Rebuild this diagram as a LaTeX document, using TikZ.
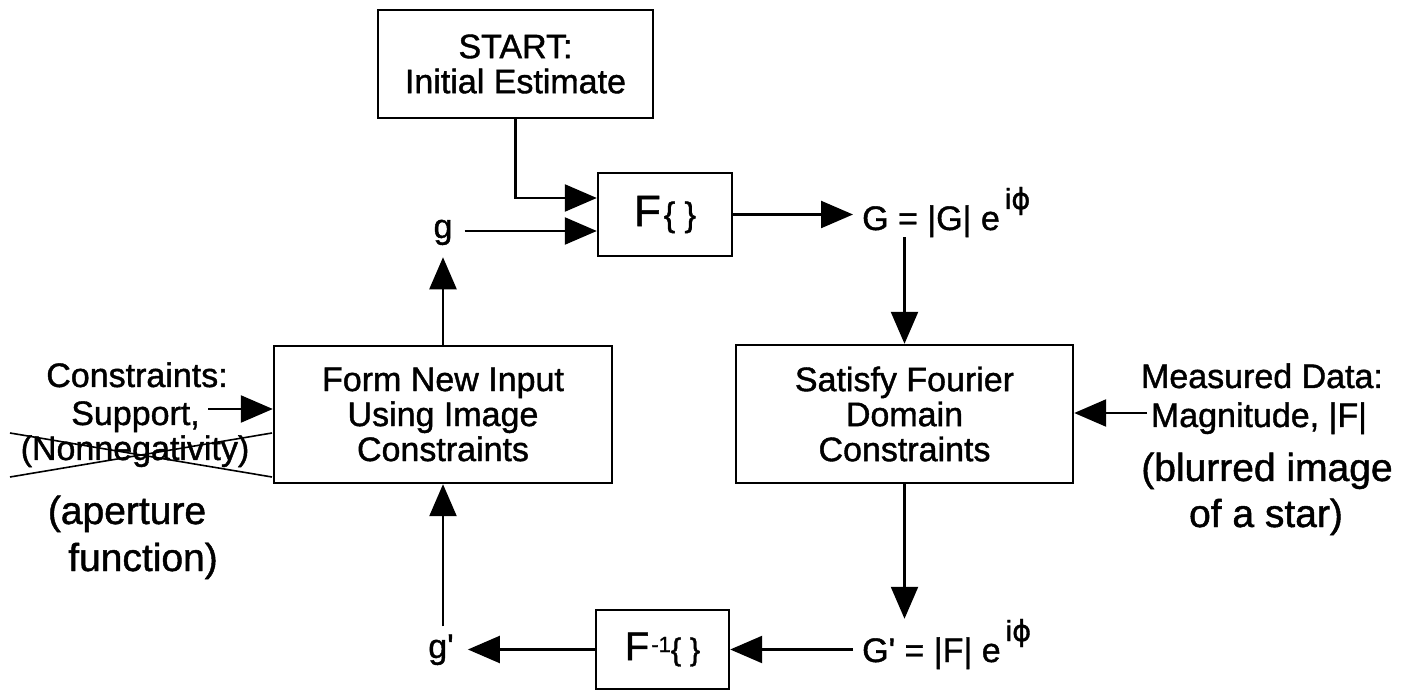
\documentclass[tikz,border=0pt]{standalone}
\usepackage{fontspec}
\setmainfont{Liberation Sans}[FakeBold=1.2]
\newfontfamily\phifont{DejaVu Sans}[FakeBold=1.2]
\usetikzlibrary{arrows.meta}
\newcommand{\setfs}[2]{\fontsize{#1}{#2}\selectfont}
\newcommand{\txt}{\setfs{34}{35}}
\newcommand{\bigtxt}{\setfs{39}{46}}
% raised "i phi" exponent
\newcommand{\phase}{\hspace{5pt}\raisebox{21pt}{\setfs{29}{29}i{\phifont ϕ}}}
\begin{document}
\begin{tikzpicture}[x=1pt,y=-1pt,
  box/.style={draw, line width=2.4pt, inner sep=0pt, align=center, font=\txt},
  flow/.style={line width=2.4pt, -{Triangle[length=32pt,width=27pt]}},
  lbl/.style={inner sep=0pt, font=\txt},
  biglbl/.style={inner sep=0pt, font=\bigtxt},
  cross/.style={line width=1.6pt}]
\useasboundingbox (0,0) rectangle (1401,692);

% boxes
\node[box, minimum width=275pt, minimum height=108pt, font=\setfs{34}{35}] (start) at (515.5,64) {START:\\Initial Estimate};
\node[box, minimum width=134pt, minimum height=83pt] (F) at (665,214.5)
  {{\setfs{44}{44}F}\hspace{3pt}{\setfs{34}{34}\{ \}}};
\node[box, minimum width=338pt, minimum height=137pt] (form) at (443,414.5)
  {Form New Input\\Using Image\\Constraints};
\node[box, minimum width=337pt, minimum height=138pt] (sat) at (904.5,414)
  {Satisfy Fourier\\Domain\\Constraints};
\node[box, minimum width=133pt, minimum height=79pt] (finv) at (662.5,649.5)
  {{\setfs{40}{40}F}\hspace{2pt}\raisebox{8pt}{\setfs{22}{22}-1}{\setfs{31}{31}\{ \}}};

% signal labels
\node[lbl, anchor=base, inner xsep=12pt, inner ysep=12pt] (g) at (443,238) {g};
\node[lbl, anchor=base, inner xsep=14pt, inner ysep=8pt] (gp) at (441,658) {g\textquotesingle};
\node[lbl, anchor=base west, inner xsep=9pt] (G) at (853,230) {G = |G| e\phase};
\node[lbl, anchor=base west, inner xsep=9pt] (Gp) at (853,662) {G\textquotesingle\ = |F| e\phase};

% inputs on the left
\node[lbl, anchor=base] (cons) at (137,387) {Constraints:};
\node[lbl, anchor=base east] (supp) at (200,425) {Support,};
\node[lbl, anchor=base] (nonneg) at (135,460) {(Nonnegativity)};
\node[biglbl, anchor=base] (ap1) at (127,524) {(aperture};
\node[biglbl, anchor=base] (ap2) at (143,571) {function)};
\coordinate (suppout) at (208,409);
\draw[cross] (10,433) -- (272,477);
\draw[cross] (10,477) -- (272,433);

% inputs on the right
\node[lbl, anchor=base] (meas) at (1262,388) {Measured Data:};
\node[lbl, anchor=base] (mag) at (1259,427) {Magnitude, |F|};
\node[biglbl, anchor=base] (bl1) at (1267,481) {(blurred image};
\node[biglbl, anchor=base] (bl2) at (1266,527) {of a star)};
\coordinate (magin) at (1147,413);

% two inputs on the left side of F{ }
\coordinate (fin1) at ([yshift=16.5pt]F.west);
\coordinate (fin2) at ([yshift=-16.5pt]F.west);

% connectors
\draw[flow] (start.south) |- (fin1);
\draw[flow] (g.east |- fin2) -- (fin2);
\draw[flow] (form.north) -- (form.north |- g.south);
\draw[flow] (F.east) -- (F.east -| G.west);
\draw[flow] (sat.north |- G.south) -- (sat.north);
\draw[flow] (sat.south) -- (sat.south |- Gp.north);
\draw[flow] (finv.east -| Gp.west) -- (finv.east);
\draw[flow] (finv.west) -- (finv.west -| gp.east);
\draw[flow] (gp.north -| form.south) -- (form.south);
\draw[flow] (suppout) -- (suppout -| form.west);
\draw[flow] (magin) -- (magin -| sat.east);
\end{tikzpicture}
\end{document}
